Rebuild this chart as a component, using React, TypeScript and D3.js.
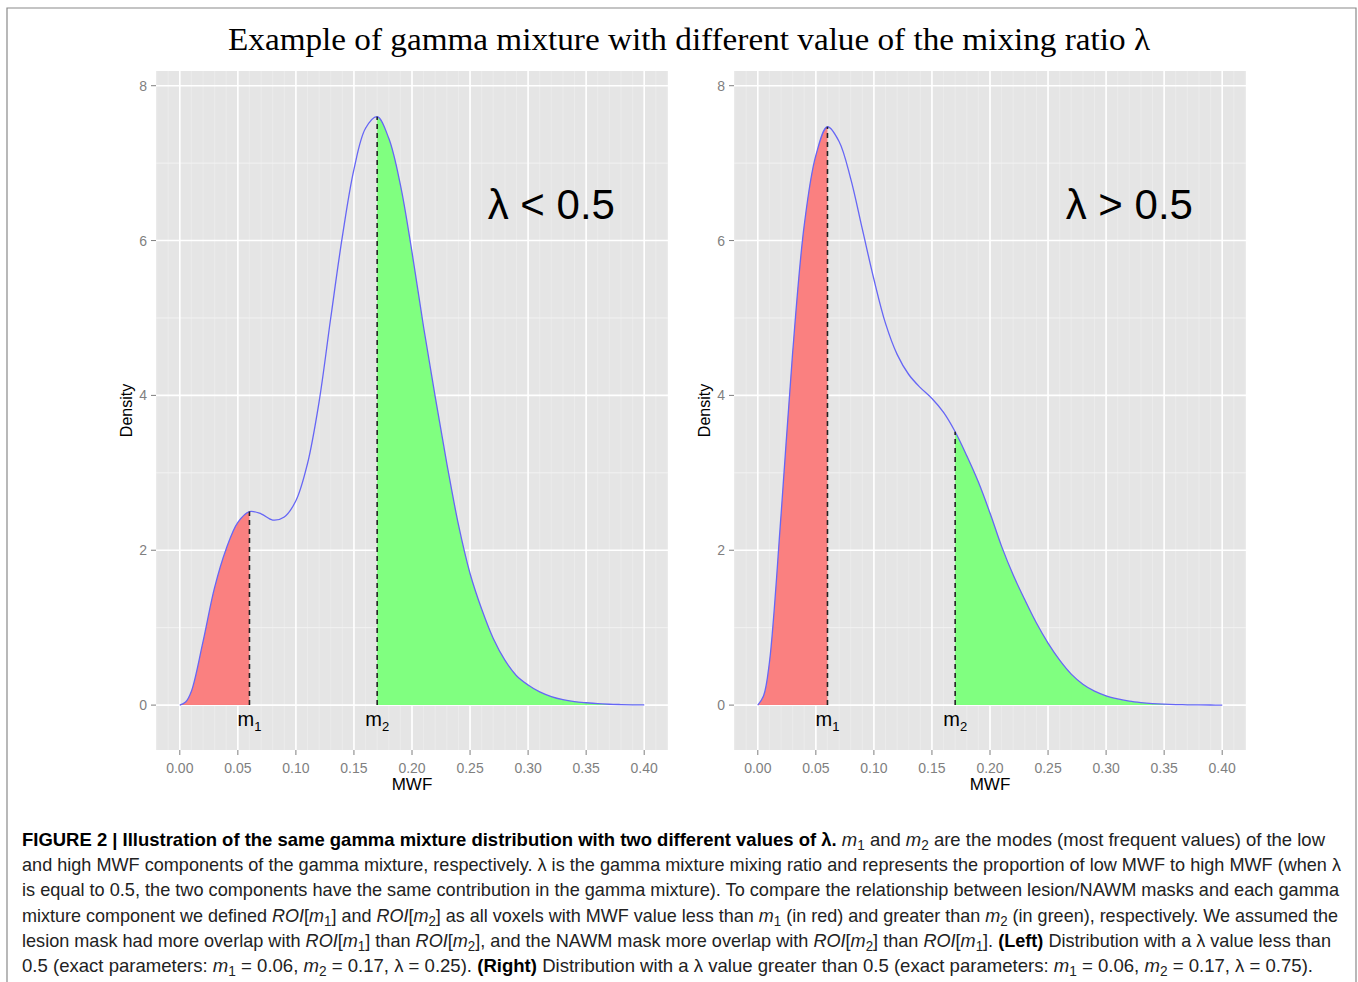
import React from 'react';
import * as d3 from 'd3';

// MWF grid shared by both panels
const mwf = [0, 0.005, 0.01, 0.02, 0.03, 0.04, 0.05, 0.06, 0.07, 0.08, 0.09, 0.1, 0.11, 0.12, 0.13, 0.14, 0.15, 0.16, 0.17, 0.18, 0.19, 0.2,
  0.21, 0.22, 0.23, 0.24, 0.25, 0.26, 0.27, 0.28, 0.29, 0.3, 0.31, 0.32, 0.33, 0.34, 0.35, 0.36, 0.37, 0.38, 0.39, 0.4];

// density (lambda < 0.5)
const densityLow = [0, 0.04, 0.18, 0.82, 1.52, 2.02, 2.36, 2.5, 2.47, 2.39, 2.43, 2.64, 3.12, 3.92, 5.0, 6.05, 6.92, 7.45, 7.6, 7.32, 6.72, 5.85,
  4.88, 3.98, 3.12, 2.33, 1.7, 1.24, 0.86, 0.58, 0.38, 0.26, 0.17, 0.11, 0.07, 0.045, 0.03, 0.018, 0.011, 0.007, 0.004, 0.002];

// density (lambda > 0.5)
const densityHigh = [0, 0.12, 0.55, 2.45, 4.55, 6.2, 7.1, 7.47, 7.28, 6.8, 6.15, 5.5, 4.93, 4.53, 4.27, 4.1, 3.96, 3.78, 3.53, 3.22, 2.88, 2.48,
  2.05, 1.68, 1.36, 1.06, 0.8, 0.58, 0.4, 0.27, 0.18, 0.12, 0.08, 0.05, 0.032, 0.02, 0.012, 0.007, 0.004, 0.002, 0.001, 0.0006];

const m1 = 0.06;
const m2 = 0.17;

const xTicks = [0, 0.05, 0.1, 0.15, 0.2, 0.25, 0.3, 0.35, 0.4];
const yTicks = [0, 2, 4, 6, 8];
const yMinor = [1, 3, 5, 7];
const xFaint = d3.range(-2, 43).map(i => i / 100);

const panels = [
  { id: 'left', x0: 156, values: densityLow, label: 'λ < 0.5' },
  { id: 'right', x0: 734, values: densityHigh, label: 'λ > 0.5' },
];

// caption: [text, style] — b bold, i italic, s subscript
const caption: [string, string][][] = [
  [['FIGURE 2 | Illustration of the same gamma mixture distribution with two different values of λ.', 'b'], [' ', ''], ['m', 'i'], ['1', 's'], [' and ', ''], ['m', 'i'], ['2', 's'], [' are the modes (most frequent values) of the low', '']],
  [['and high MWF components of the gamma mixture, respectively. λ is the gamma mixture mixing ratio and represents the proportion of low MWF to high MWF (when λ', '']],
  [['is equal to 0.5, the two components have the same contribution in the gamma mixture). To compare the relationship between lesion/NAWM masks and each gamma', '']],
  [['mixture component we defined ', ''], ['ROI', 'i'], ['[', ''], ['m', 'i'], ['1', 's'], ['] and ', ''], ['ROI', 'i'], ['[', ''], ['m', 'i'], ['2', 's'], ['] as all voxels with MWF value less than ', ''], ['m', 'i'], ['1', 's'], [' (in red) and greater than ', ''], ['m', 'i'], ['2', 's'], [' (in green), respectively. We assumed the', '']],
  [['lesion mask had more overlap with ', ''], ['ROI', 'i'], ['[', ''], ['m', 'i'], ['1', 's'], ['] than ', ''], ['ROI', 'i'], ['[', ''], ['m', 'i'], ['2', 's'], ['], and the NAWM mask more overlap with ', ''], ['ROI', 'i'], ['[', ''], ['m', 'i'], ['2', 's'], ['] than ', ''], ['ROI', 'i'], ['[', ''], ['m', 'i'], ['1', 's'], [']. ', ''], ['(Left)', 'b'], [' Distribution with a λ value less than', '']],
  [['0.5 (exact parameters: ', ''], ['m', 'i'], ['1', 's'], [' = 0.06, ', ''], ['m', 'i'], ['2', 's'], [' = 0.17, λ = 0.25). ', ''], ['(Right)', 'b'], [' Distribution with a λ value greater than 0.5 (exact parameters: ', ''], ['m', 'i'], ['1', 's'], [' = 0.06, ', ''], ['m', 'i'], ['2', 's'], [' = 0.17, λ = 0.75).', '']],
];
const captionEnds = [1325, 1341, 1339, 1338, 1331, 1313];

const SANS = '"Liberation Sans", Arial, Helvetica, sans-serif';

function Panel({ x0, values, label, id }: { x0: number; values: number[]; label: string; id: string }) {
  const width = 512;
  const top = 71;
  const bottom = 750;
  const x = d3.scaleLinear().domain([-0.0205, 0.4205]).range([x0, x0 + width]);
  const y = d3.scaleLinear().domain([-0.58, 8.19]).range([bottom, top]);
  const pts = mwf.map((m, i) => [m, values[i]] as [number, number]);

  const curve = d3.curveCatmullRom.alpha(0.5);
  const line = d3.line<[number, number]>().x(d => x(d[0])).y(d => y(Math.max(0, d[1]))).curve(curve);
  const area = d3.area<[number, number]>().x(d => x(d[0])).y0(y(0)).y1(d => y(d[1])).curve(curve);

  const v1 = values[mwf.indexOf(m1)];
  const v2 = values[mwf.indexOf(m2)];

  return (
    <g>
      <defs>
        <clipPath id={`${id}-red`}>
          <rect x={x0} y={top} width={x(m1) - x0} height={y(0) - top} />
        </clipPath>
        <clipPath id={`${id}-green`}>
          <rect x={x(m2)} y={top} width={x0 + width - x(m2)} height={y(0) - top} />
        </clipPath>
      </defs>
      <rect x={x0} y={top} width={width} height={bottom - top} fill="#E5E5E5" />
      {xFaint.map(v => (
        <line key={`f${v}`} x1={x(v)} x2={x(v)} y1={top} y2={bottom} stroke="#EBEBEB" strokeWidth={1} />
      ))}
      {yMinor.map(v => (
        <line key={`ym${v}`} x1={x0} x2={x0 + width} y1={y(v)} y2={y(v)} stroke="#F2F2F2" strokeWidth={1} />
      ))}
      {yTicks.map(v => (
        <line key={`y${v}`} x1={x0} x2={x0 + width} y1={y(v)} y2={y(v)} stroke="#FFFFFF" strokeWidth={1.6} />
      ))}
      {xTicks.map(v => (
        <line key={`x${v}`} x1={x(v)} x2={x(v)} y1={top} y2={bottom} stroke="#FFFFFF" strokeWidth={1.6} />
      ))}

      <path d={area(pts) ?? ''} fill="#FA8080" clipPath={`url(#${id}-red)`} />
      <path d={area(pts) ?? ''} fill="#80FF80" clipPath={`url(#${id}-green)`} />
      <path d={line(pts) ?? ''} fill="none" stroke="#6666F5" strokeWidth={1.3} />

      <line x1={x(m1)} x2={x(m1)} y1={y(0)} y2={y(v1)} stroke="#222" strokeWidth={1.6} strokeDasharray="5,4" />
      <line x1={x(m2)} x2={x(m2)} y1={y(0)} y2={y(v2)} stroke="#222" strokeWidth={1.6} strokeDasharray="5,4" />

      {[m1, m2].map((m, i) => (
        <text key={`m${i}`} x={x(m)} y={726} textAnchor="middle" fontFamily={SANS} fontSize={20} fill="#000">
          m<tspan fontSize={13} dy={5}>{i + 1}</tspan>
        </text>
      ))}

      <text x={x(0.32)} y={y(6.28)} textAnchor="middle" fontFamily={SANS} fontSize={42} fill="#000">{label}</text>

      {/* y axis */}
      {yTicks.map(v => (
        <g key={`yt${v}`}>
          <line x1={x0 - 5} x2={x0} y1={y(v)} y2={y(v)} stroke="#7F7F7F" strokeWidth={1} />
          <text x={x0 - 9} y={y(v) + 5} textAnchor="end" fontFamily={SANS} fontSize={14} fill="#7F7F7F">{v}</text>
        </g>
      ))}
      <text transform={`translate(${x0 - 24},${(top + bottom) / 2}) rotate(-90)`} textAnchor="middle"
        fontFamily={SANS} fontSize={16} fill="#000">Density</text>

      {/* x axis */}
      {xTicks.map(v => (
        <g key={`xt${v}`}>
          <line x1={x(v)} x2={x(v)} y1={bottom} y2={bottom + 5} stroke="#7F7F7F" strokeWidth={1} />
          <text x={x(v)} y={773} textAnchor="middle" fontFamily={SANS} fontSize={14} fill="#7F7F7F">{v.toFixed(2)}</text>
        </g>
      ))}
      <text x={x(0.2)} y={790} textAnchor="middle" fontFamily={SANS} fontSize={17} fill="#000">MWF</text>
    </g>
  );
}

export default function App() {
  return (
    <svg width={1358} height={982} style={{ position: 'absolute', left: 0, top: 0, background: '#fff' }}>
      <path d="M7,990 V8 H1356 V990" fill="none" stroke="#8A8A8A" strokeWidth={1.2} />
      <text x={689} y={50} textAnchor="middle" fontFamily='"Liberation Serif", "Times New Roman", serif' fontSize={32}
        textLength={922} lengthAdjust="spacingAndGlyphs" fill="#000">
        Example of gamma mixture with different value of the mixing ratio λ
      </text>
      {panels.map(p => (
        <Panel key={p.id} {...p} />
      ))}
      {caption.map((segs, li) => (
        <text key={li} x={22} y={846 + li * 25.2} fontFamily='"Liberation Sans Narrow", "Arial Narrow", "Liberation Sans", sans-serif'
          fontSize={19} fill="#222" textLength={captionEnds[li] - 22} lengthAdjust="spacingAndGlyphs">
          {segs.map(([t, s], si) => {
            const prevSub = si > 0 && segs[si - 1][1] === 's';
            if (s === 's') return <tspan key={si} fontSize={14} dy={4}>{t}</tspan>;
            return (
              <tspan key={si} dy={prevSub ? -4 : 0} fontWeight={s === 'b' ? 'bold' : 'normal'}
                fontStyle={s === 'i' ? 'italic' : 'normal'} fill={s === 'b' ? '#000' : '#222'}>{t}</tspan>
            );
          })}
        </text>
      ))}
    </svg>
  );
}
